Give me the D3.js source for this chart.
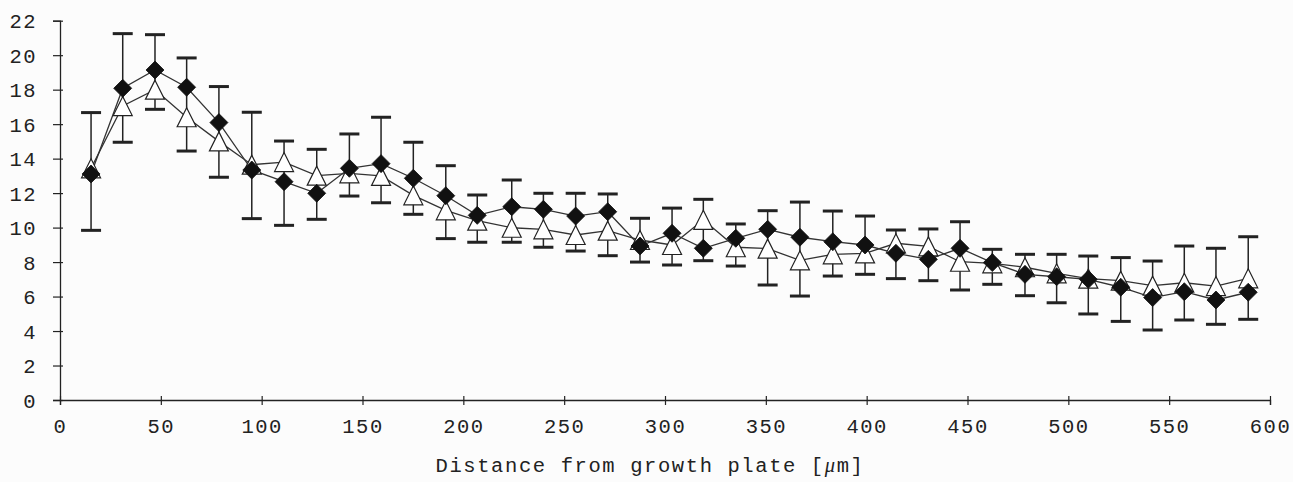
<!DOCTYPE html>
<html>
<head>
<meta charset="utf-8">
<script src="https://cdn.jsdelivr.net/npm/d3@7"></script>
<style>
  html, body { margin: 0; padding: 0; background: #fcfcfc; }
  svg { display: block; }
  text { font-family: "Liberation Mono", "Courier New", monospace; fill: #222; }
</style>
</head>
<body>
<svg id="chart" width="1293" height="482"></svg>
<script>
// ---- data ----
const distances = [15.4, 31.1, 47.1, 62.8, 78.8, 95.1, 111.1, 127.3, 143.5, 159.2,
  175.2, 191.3, 206.9, 224.0, 239.7, 255.7, 271.6, 287.6, 303.5, 319.0,
  335.1, 350.9, 366.9, 383.2, 399.2, 414.5, 430.6, 446.3, 462.3, 478.5,
  494.2, 509.9, 526.0, 541.8, 557.5, 573.2, 589.2];

const seriesDiamond = [13.11, 18.08, 19.14, 18.14, 16.09, 13.34, 12.66, 11.99, 13.44, 13.71,
  12.86, 11.85, 10.71, 11.21, 11.06, 10.67, 10.92, 8.93, 9.67, 8.80,
  9.38, 9.90, 9.44, 9.18, 8.99, 8.51, 8.16, 8.80, 7.97, 7.29,
  7.15, 7.00, 6.54, 5.94, 6.28, 5.80, 6.25];

const seriesTriangle = [13.44, 17.05, 18.00, 16.40, 15.00, 13.65, 13.80, 13.01, 13.15, 13.00,
  11.87, 11.00, 10.40, 9.99, 9.90, 9.57, 9.82, 9.28, 8.99, 10.45,
  8.86, 8.78, 8.10, 8.45, 8.50, 9.09, 8.91, 8.02, 7.93, 7.70,
  7.35, 7.04, 6.92, 6.63, 6.80, 6.61, 7.06];

const errorUpper = [16.67, 21.25, 21.19, 19.84, 18.18, 16.69, 15.02, 14.54, 15.43, 16.40,
  14.95, 13.59, 11.89, 12.76, 11.99, 11.99, 11.95, 10.54, 11.13, 11.64,
  10.21, 10.98, 11.48, 10.96, 10.67, 9.86, 9.92, 10.34, 8.74, 8.45,
  8.45, 8.35, 8.26, 8.06, 8.93, 8.80, 9.47];

const errorLower = [9.84, 14.95, 16.86, 14.44, 12.92, 10.52, 10.13, 10.48, 11.83, 11.44,
  10.77, 9.36, 9.15, 9.15, 8.86, 8.64, 8.37, 8.00, 7.83, 8.08,
  7.77, 6.67, 6.03, 7.19, 7.29, 7.04, 6.92, 6.38, 6.71, 6.05,
  5.64, 4.99, 4.56, 4.06, 4.64, 4.39, 4.68];

const xTicks = [0, 50, 100, 150, 200, 250, 300, 350, 400, 450, 500, 550, 600];
const yTicks = [0, 2, 4, 6, 8, 10, 12, 14, 16, 18, 20, 22];
const xTitle = "Distance from growth plate [";
const xTitleUnit = "m]";

// ---- layout ----
const svg = d3.select("#chart");
const x = d3.scaleLinear().domain([0, 600]).range([60, 1270]);
const y = d3.scaleLinear().domain([0, 22]).range([400, 20.7]);
const ink = "#222";

// y axis
const yAxis = svg.append("g").attr("transform", "translate(60,0)")
  .call(d3.axisLeft(y).tickValues(yTicks).tickSize(7).tickPadding(16).tickFormat(d3.format("d")));
yAxis.select(".domain").attr("stroke", ink).attr("stroke-width", 1.3);
yAxis.selectAll(".tick line").attr("stroke", ink).attr("stroke-width", 1.2).attr("x2", -7).attr("x1", 3);
yAxis.selectAll(".tick text").attr("font-size", 20.5).attr("letter-spacing", 1.5)
  .attr("font-family", "Liberation Mono").attr("fill", ink).attr("dy", "0.35em");

// x axis
const xAxis = svg.append("g").attr("transform", "translate(0,400)")
  .call(d3.axisBottom(x).tickValues(xTicks).tickSize(5).tickPadding(13).tickFormat(d3.format("d")));
xAxis.select(".domain").attr("stroke", ink).attr("stroke-width", 1.3);
xAxis.selectAll(".tick line").attr("stroke", ink).attr("stroke-width", 1.2).attr("y1", -4).attr("y2", 5);
xAxis.selectAll(".tick text").attr("font-size", 20.5).attr("letter-spacing", 1.5)
  .attr("font-family", "Liberation Mono").attr("fill", ink).attr("dy", "0.71em");

// x title
const title = svg.append("text")
  .attr("x", 650).attr("y", 472)
  .attr("text-anchor", "middle")
  .attr("font-size", 20.5).attr("letter-spacing", 1.6)
  .attr("fill", ink);
title.append("tspan").text(xTitle);
title.append("tspan").attr("font-style", "italic").attr("font-family", "Liberation Serif").text("\u03bc");
title.append("tspan").text(xTitleUnit);

// data join
const pts = distances.map((d, i) => ({
  x: d, a: seriesDiamond[i], b: seriesTriangle[i], hi: errorUpper[i], lo: errorLower[i]
}));

// error bars
const eb = svg.append("g");
eb.append("g").selectAll("line").data(pts).join("line")
  .attr("x1", d => x(d.x)).attr("x2", d => x(d.x))
  .attr("y1", d => y(d.hi)).attr("y2", d => y(d.lo))
  .attr("stroke", ink).attr("stroke-width", 1.5);
eb.append("g").selectAll("line").data(pts).join("line")
  .attr("x1", d => x(d.x) - 10).attr("x2", d => x(d.x) + 10)
  .attr("y1", d => y(d.hi)).attr("y2", d => y(d.hi))
  .attr("stroke", ink).attr("stroke-width", 3);
eb.append("g").selectAll("line").data(pts).join("line")
  .attr("x1", d => x(d.x) - 10).attr("x2", d => x(d.x) + 10)
  .attr("y1", d => y(d.lo)).attr("y2", d => y(d.lo))
  .attr("stroke", ink).attr("stroke-width", 3);

// lines
const lineB = d3.line().x(d => x(d.x)).y(d => y(d.b));
const lineA = d3.line().x(d => x(d.x)).y(d => y(d.a));
svg.append("path").datum(pts).attr("d", lineB).attr("fill", "none").attr("stroke", "#333").attr("stroke-width", 1.3);
svg.append("path").datum(pts).attr("d", lineA).attr("fill", "none").attr("stroke", "#333").attr("stroke-width", 1.3);

// triangle markers (open)
const tw = 9.5;
svg.append("g").selectAll("path").data(pts).join("path")
  .attr("d", d => {
    const cx = x(d.x), cy = y(d.b);
    return `M${cx},${cy - tw}L${cx + tw},${cy + tw}L${cx - tw},${cy + tw}Z`;
  })
  .attr("fill", "#fff").attr("stroke", ink).attr("stroke-width", 1.2);

// diamond markers (filled)
const dw = 9;
svg.append("g").selectAll("path").data(pts).join("path")
  .attr("d", d => {
    const cx = x(d.x), cy = y(d.a);
    return `M${cx},${cy - dw}L${cx + dw},${cy}L${cx},${cy + dw}L${cx - dw},${cy}Z`;
  })
  .attr("fill", "#111").attr("stroke", "#111").attr("stroke-width", 0.8);
</script>
</body>
</html>
